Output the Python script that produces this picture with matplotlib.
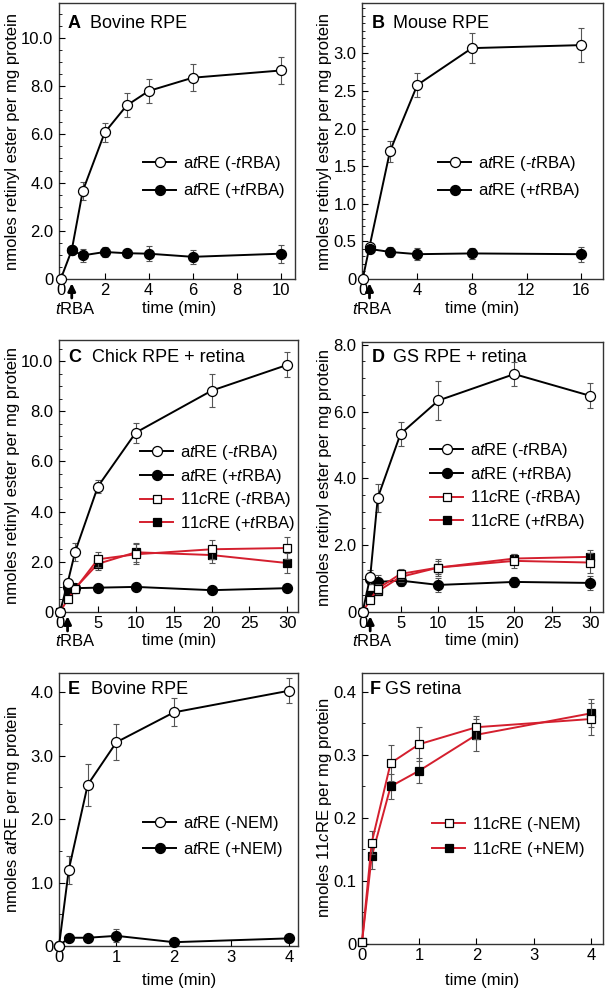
import matplotlib
matplotlib.use("Agg")
import matplotlib.pyplot as plt
from matplotlib.ticker import FixedLocator, AutoMinorLocator

plt.rcParams['font.family'] = ['Liberation Sans', 'DejaVu Sans']
plt.rcParams['mathtext.fontset'] = 'custom'
plt.rcParams['mathtext.rm'] = 'Liberation Sans'
plt.rcParams['mathtext.it'] = 'Liberation Sans:italic'
plt.rcParams['mathtext.bf'] = 'Liberation Sans:bold'

# ---------------- data ----------------
# Panel A: Bovine RPE
A_t_open = [0, 0.5, 1, 2, 3, 4, 6, 10]
A_open = [0, 1.2, 3.65, 6.08, 7.2, 7.8, 8.35, 8.65]
A_open_err = [0, 0.1, 0.38, 0.4, 0.5, 0.48, 0.57, 0.58]
A_t_fill = [0.5, 1, 2, 3, 4, 6, 10]
A_fill = [1.2, 0.98, 1.12, 1.07, 1.05, 0.92, 1.05]
A_fill_err = [0.1, 0.26, 0.2, 0.17, 0.32, 0.28, 0.37]

# Panel B: Mouse RPE
B_t_open = [0, 0.5, 2, 4, 8, 16]
B_open = [0, 0.43, 1.7, 2.58, 3.07, 3.11]
B_open_err = [0, 0.03, 0.14, 0.16, 0.2, 0.23]
B_t_fill = [0.5, 2, 4, 8, 16]
B_fill = [0.4, 0.36, 0.33, 0.34, 0.33]
B_fill_err = [0.04, 0.07, 0.08, 0.07, 0.1]

# Panel C: Chick RPE + retina
C_t = [0, 1, 2, 5, 10, 20, 30]
C_t_fill = [1, 2, 5, 10, 20, 30]
C_at_open = [0, 1.15, 2.4, 5.0, 7.15, 8.82, 9.85]
C_at_open_err = [0, 0.15, 0.35, 0.25, 0.4, 0.65, 0.5]
C_at_fill = [1.0, 0.95, 0.97, 1.0, 0.87, 0.95]
C_at_fill_err = [0.1, 0.1, 0.08, 0.08, 0.08, 0.08]
C_11c_open = [0, 0.5, 0.92, 2.1, 2.3, 2.5, 2.55]
C_11c_open_err = [0, 0.1, 0.15, 0.3, 0.4, 0.38, 0.42]
C_11c_fill = [0.85, 0.95, 1.92, 2.38, 2.27, 1.95]
C_11c_fill_err = [0.1, 0.15, 0.25, 0.38, 0.3, 0.4]

# Panel D: GS RPE + retina
D_t = [0, 1, 2, 5, 10, 20, 30]
D_t_fill = [1, 2, 5, 10, 20, 30]
D_at_open = [0, 1.05, 3.42, 5.33, 6.33, 7.12, 6.47]
D_at_open_err = [0, 0.2, 0.42, 0.35, 0.57, 0.35, 0.38]
D_at_fill = [1.0, 0.9, 0.94, 0.81, 0.9, 0.87]
D_at_fill_err = [0.15, 0.2, 0.15, 0.2, 0.15, 0.2]
D_11c_open = [0, 0.37, 0.7, 1.14, 1.33, 1.53, 1.48]
D_11c_open_err = [0, 0.1, 0.15, 0.15, 0.25, 0.2, 0.3]
D_11c_fill = [0.52, 0.62, 1.05, 1.33, 1.6, 1.65]
D_11c_fill_err = [0.1, 0.12, 0.15, 0.2, 0.15, 0.22]

# Panel E: Bovine RPE (NEM)
E_t = [0, 0.17, 0.5, 1, 2, 4]
E_open = [0, 1.2, 2.54, 3.21, 3.68, 4.02]
E_open_err = [0, 0.22, 0.33, 0.28, 0.22, 0.2]
E_fill = [0, 0.13, 0.13, 0.16, 0.06, 0.12]
E_fill_err = [0, 0.03, 0.03, 0.1, 0.03, 0.03]

# Panel F: GS retina (NEM)
F_t = [0, 0.17, 0.5, 1, 2, 4]
F_open = [0.003, 0.161, 0.287, 0.317, 0.344, 0.357]
F_open_err = [0, 0.018, 0.028, 0.027, 0.018, 0.025]
F_fill = [0.003, 0.139, 0.25, 0.275, 0.332, 0.366]
F_fill_err = [0, 0.02, 0.02, 0.02, 0.025, 0.022]

# tick labels
A_xticks = [0, 2, 4, 6, 8, 10]
A_yticks = [0, 2, 4, 6, 8, 10]
A_ylabels = ['0', '2.0', '4.0', '6.0', '8.0', '10.0']
B_xticks = [0, 4, 8, 12, 16]
B_yticks = [0, 0.5, 1.0, 1.5, 2.0, 2.5, 3.0]
B_ylabels = ['0', '0.5', '1.0', '1.5', '2.0', '2.5', '3.0']
C_xticks = [0, 5, 10, 15, 20, 25, 30]
C_yticks = [0, 2, 4, 6, 8, 10]
C_ylabels = ['0', '2.0', '4.0', '6.0', '8.0', '10.0']
D_xticks = [0, 5, 10, 15, 20, 25, 30]
D_yticks = [0, 2, 4, 6, 8]
D_ylabels = ['0', '2.0', '4.0', '6.0', '8.0']
E_xticks = [0, 1, 2, 3, 4]
E_yticks = [0, 1, 2, 3, 4]
E_ylabels = ['0', '1.0', '2.0', '3.0', '4.0']
F_xticks = [0, 1, 2, 3, 4]
F_yticks = [0, 0.1, 0.2, 0.3, 0.4]
F_ylabels = ['0', '0.1', '0.2', '0.3', '0.4']

tRBA_time_AB = 0.5
tRBA_time_CD = 1

# ---------------- style ----------------
W, H = 610, 992
RED = '#d41f2e'
ERRC = '#555555'
FS = 12
MS_C = 7.2
MS_S = 6.4

fig = plt.figure(figsize=(W / 100, H / 100), dpi=100)


def px_axes(l, t, r, b):
    return fig.add_axes([l / W, 1 - b / H, (r - l) / W, (b - t) / H])


def fx(x):
    return x / W


def fy(y):
    return 1 - y / H


def series(ax, t, y, e, marker, face, line, label, ms=MS_C, z=3):
    ax.errorbar(t, y, yerr=e, fmt='none', ecolor=ERRC, elinewidth=0.8,
                capsize=2.5, capthick=0.8, zorder=z)
    ax.plot(t, y, color=line, lw=1.4, marker=marker, ms=ms, mfc=face,
            mec='black', mew=0.9, label=label, zorder=z + 0.5, clip_on=False)


def style(ax, xlim, ylim, xt, yt, ylabs):
    ax.set_xlim(*xlim)
    ax.set_ylim(*ylim)
    ax.xaxis.set_major_locator(FixedLocator(xt))
    ax.set_xticklabels([str(v) for v in xt])
    ax.yaxis.set_major_locator(FixedLocator(yt))
    ax.set_yticklabels(ylabs)
    ax.tick_params(direction='in', length=4, width=0.8, labelsize=FS,
                   pad=3, colors='black')
    ax.tick_params(axis='y', pad=4)
    for s in ax.spines.values():
        s.set_linewidth(1.0)
        s.set_color('#333333')
        s.set_zorder(1)


def legend(ax, x, y, spacing):
    ax.legend(loc='upper left', bbox_to_anchor=(fx(x), fy(y)),
              bbox_transform=fig.transFigure, frameon=False, borderpad=0,
              borderaxespad=0, handlelength=2.0, handletextpad=0.4,
              labelspacing=spacing, fontsize=FS)


def title(letter, text, xl, xt, y):
    fig.text(fx(xl), fy(y), letter, fontsize=13, fontweight='bold',
             ha='left', va='center')
    fig.text(fx(xt), fy(y), text, fontsize=13, ha='left', va='center')


def ylab(text, x, yc):
    fig.text(fx(x), fy(yc), text, rotation=90, fontsize=FS,
             ha='center', va='center')


def arrow(ax, t):
    ax.annotate('', xy=(t, 0), xycoords=('data', 'axes fraction'),
                xytext=(0, -19), textcoords='offset pixels',
                arrowprops=dict(arrowstyle='-|>,head_length=0.45,head_width=0.22',
                                color='black', lw=2.0, shrinkA=0, shrinkB=3),
                annotation_clip=False)


lab_open_t = 'a$\\mathit{t}$RE (-$\\mathit{t}$RBA)'
lab_fill_t = 'a$\\mathit{t}$RE (+$\\mathit{t}$RBA)'
lab_open_c = '11$\\mathit{c}$RE (-$\\mathit{t}$RBA)'
lab_fill_c = '11$\\mathit{c}$RE (+$\\mathit{t}$RBA)'
YLAB = 'nmoles retinyl ester per mg protein'

# ---------------- Panel A ----------------
axA = px_axes(59, 3, 295, 279)
series(axA, A_t_open, A_open, A_open_err, 'o', 'white', 'black', lab_open_t)
series(axA, A_t_fill, A_fill, A_fill_err, 'o', 'black', 'black', lab_fill_t)
style(axA, (-0.08, 10.65), (0, 11.45), A_xticks, A_yticks, A_ylabels)
axA.yaxis.set_minor_locator(AutoMinorLocator(4))
axA.tick_params(which='minor', direction='in', length=2, width=0.6)
legend(axA, 143, 154, 0.5)
title('A', 'Bovine RPE', 68, 90, 23)
ylab(YLAB, 13, 141)
arrow(axA, tRBA_time_AB)
fig.text(fx(55), fy(309), '$\\mathit{t}$RBA', fontsize=FS, ha='left', va='center')
fig.text(fx(179), fy(309), 'time (min)', fontsize=FS, ha='center', va='center')

# ---------------- Panel B ----------------
axB = px_axes(362, 3, 603, 279)
series(axB, B_t_open, B_open, B_open_err, 'o', 'white', 'black', lab_open_t)
series(axB, B_t_fill, B_fill, B_fill_err, 'o', 'black', 'black', lab_fill_t)
style(axB, (-0.05, 17.6), (0, 3.67), B_xticks, B_yticks, B_ylabels)
axB.yaxis.set_minor_locator(AutoMinorLocator(5))
axB.tick_params(which='minor', direction='in', length=2, width=0.6)
legend(axB, 438, 154, 0.5)
title('B', 'Mouse RPE', 372, 393, 23)
ylab(YLAB, 325, 141)
arrow(axB, tRBA_time_AB)
fig.text(fx(352), fy(309), '$\\mathit{t}$RBA', fontsize=FS, ha='left', va='center')
fig.text(fx(482), fy(309), 'time (min)', fontsize=FS, ha='center', va='center')

# ---------------- Panel C ----------------
axC = px_axes(59, 340, 298, 612)
series(axC, C_t_fill, C_at_fill, C_at_fill_err, 'o', 'black', 'black', lab_fill_t, z=3)
series(axC, C_t_fill, C_11c_fill, C_11c_fill_err, 's', 'black', RED, lab_fill_c, ms=MS_S, z=4)
series(axC, C_t, C_11c_open, C_11c_open_err, 's', 'white', RED, lab_open_c, ms=MS_S, z=5)
series(axC, C_t, C_at_open, C_at_open_err, 'o', 'white', 'black', lab_open_t, z=6)
h, l = axC.get_legend_handles_labels()
order = [3, 0, 2, 1]
style(axC, (-0.13, 31.4), (0, 10.84), C_xticks, C_yticks, C_ylabels)
axC.yaxis.set_minor_locator(AutoMinorLocator(4))
axC.tick_params(which='minor', direction='in', length=2, width=0.6)
axC.legend([h[i] for i in order], [l[i] for i in order], loc='upper left',
           bbox_to_anchor=(fx(140), fy(443)), bbox_transform=fig.transFigure,
           frameon=False, borderpad=0, borderaxespad=0, handlelength=2.0,
           handletextpad=0.4, labelspacing=0.28, fontsize=FS)
title('C', 'Chick RPE + retina', 68, 92, 357)
ylab(YLAB, 13, 476)
arrow(axC, tRBA_time_CD)
fig.text(fx(55), fy(641), '$\\mathit{t}$RBA', fontsize=FS, ha='left', va='center')
fig.text(fx(179), fy(641), 'time (min)', fontsize=FS, ha='center', va='center')

# ---------------- Panel D ----------------
axD = px_axes(362, 342, 603, 612)
series(axD, D_t_fill, D_at_fill, D_at_fill_err, 'o', 'black', 'black', lab_fill_t, z=3)
series(axD, D_t_fill, D_11c_fill, D_11c_fill_err, 's', 'black', RED, lab_fill_c, ms=MS_S, z=4)
series(axD, D_t, D_11c_open, D_11c_open_err, 's', 'white', RED, lab_open_c, ms=MS_S, z=5)
series(axD, D_t, D_at_open, D_at_open_err, 'o', 'white', 'black', lab_open_t, z=6)
h, l = axD.get_legend_handles_labels()
style(axD, (-0.08, 31.7), (0, 8.08), D_xticks, D_yticks, D_ylabels)
axD.yaxis.set_minor_locator(AutoMinorLocator(4))
axD.tick_params(which='minor', direction='in', length=2, width=0.6)
axD.legend([h[i] for i in order], [l[i] for i in order], loc='upper left',
           bbox_to_anchor=(fx(430), fy(441)), bbox_transform=fig.transFigure,
           frameon=False, borderpad=0, borderaxespad=0, handlelength=2.0,
           handletextpad=0.4, labelspacing=0.28, fontsize=FS)
title('D', 'GS RPE + retina', 372, 393, 357)
ylab(YLAB, 325, 477)
arrow(axD, tRBA_time_CD)
fig.text(fx(352), fy(641), '$\\mathit{t}$RBA', fontsize=FS, ha='left', va='center')
fig.text(fx(482), fy(641), 'time (min)', fontsize=FS, ha='center', va='center')

# ---------------- Panel E ----------------
axE = px_axes(59, 673, 298, 946)
series(axE, E_t, E_open, E_open_err, 'o', 'white', 'black', 'a$\\mathit{t}$RE (-NEM)', z=4)
series(axE, E_t, E_fill, E_fill_err, 'o', 'black', 'black', 'a$\\mathit{t}$RE (+NEM)', z=3)
style(axE, (0, 4.16), (0, 4.3), E_xticks, E_yticks, E_ylabels)
axE.yaxis.set_minor_locator(AutoMinorLocator(2))
axE.tick_params(which='minor', direction='in', length=2, width=0.6)
legend(axE, 143, 814, 0.4)
title('E', 'Bovine RPE', 68, 91, 690)
ylab('nmoles a$\\mathit{t}$RE per mg protein', 13, 809)
fig.text(fx(179), fy(980), 'time (min)', fontsize=FS, ha='center', va='center')

# ---------------- Panel F ----------------
axF = px_axes(362, 673, 603, 944)
series(axF, F_t, F_fill, F_fill_err, 's', 'black', RED, '11$\\mathit{c}$RE (+NEM)', ms=MS_S, z=3)
series(axF, F_t, F_open, F_open_err, 's', 'white', RED, '11$\\mathit{c}$RE (-NEM)', ms=MS_S, z=4)
h, l = axF.get_legend_handles_labels()
style(axF, (0, 4.21), (0, 0.43), F_xticks, F_yticks, F_ylabels)
axF.yaxis.set_minor_locator(AutoMinorLocator(2))
axF.tick_params(which='minor', direction='in', length=2, width=0.6)
axF.legend([h[1], h[0]], [l[1], l[0]], loc='upper left',
           bbox_to_anchor=(fx(432), fy(815)), bbox_transform=fig.transFigure,
           frameon=False, borderpad=0, borderaxespad=0, handlelength=2.0,
           handletextpad=0.4, labelspacing=0.35, fontsize=FS)
title('F', 'GS retina', 370, 385, 690)
ylab('nmoles 11$\\mathit{c}$RE per mg protein', 325, 808)
fig.text(fx(482), fy(980), 'time (min)', fontsize=FS, ha='center', va='center')

fig.savefig('out.png', dpi=100)
